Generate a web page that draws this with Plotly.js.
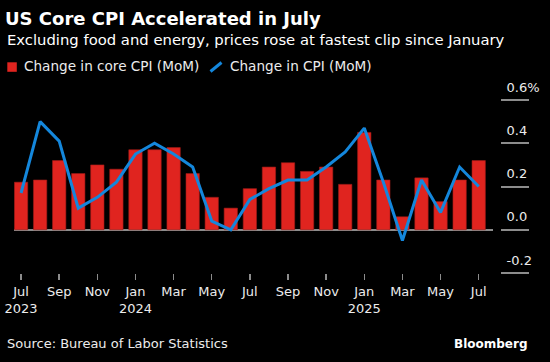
<!DOCTYPE html>
<html>
<head>
<meta charset="utf-8">
<script src="https://cdn.plot.ly/plotly-3.0.1.min.js"></script>
<style>
  html, body { margin: 0; padding: 0; background: #000; }
  #chart { width: 550px; height: 362px; }
</style>
</head>
<body>
<div id="chart"></div>
<script>
// ---- data ----
const months = ["2023-07","2023-08","2023-09","2023-10","2023-11","2023-12",
                "2024-01","2024-02","2024-03","2024-04","2024-05","2024-06",
                "2024-07","2024-08","2024-09","2024-10","2024-11","2024-12",
                "2025-01","2025-02","2025-03","2025-04","2025-05","2025-06","2025-07"];
const coreCPI = [0.22,0.23,0.32,0.26,0.30,0.28,0.37,0.37,0.38,0.26,0.15,0.10,
                 0.19,0.29,0.31,0.27,0.29,0.21,0.45,0.23,0.06,0.24,0.13,0.23,0.32];
const headlineCPI = [0.17,0.50,0.41,0.10,0.15,0.22,0.35,0.40,0.35,0.29,0.04,0.00,
                     0.14,0.19,0.23,0.23,0.29,0.36,0.47,0.22,-0.05,0.23,0.08,0.29,0.20];
const xTickVals = ["2023-07","2023-09","2023-11","2024-01","2024-03","2024-05","2024-07",
                   "2024-09","2024-11","2025-01","2025-03","2025-05","2025-07"];
const xTickText = ["Jul<br>2023","Sep","Nov","Jan<br>2024","Mar","May","Jul",
                   "Sep","Nov","Jan<br>2025","Mar","May","Jul"];
const yTickVals = [-0.2, 0.0, 0.2, 0.4, 0.6];
const yTickText = ["-0.2","0.0","0.2","0.4","0.6%"];
const seriesNames = ["Change in core CPI (MoM)", "Change in CPI (MoM)"];

// ---- layout helpers ----
const W = 550, H = 362;
const M = {l: 14, r: 14, t: 100, b: 89, pad: 0};
const PW = W - M.l - M.r, PH = H - M.t - M.b;
const fx = p => (p - M.l) / PW;
const fy = p => 1 - (p - M.t) / PH;

const FONT = "DejaVu Sans";
const RED = "#e0241f", BLUE = "#1487dc", GREY = "#8c8c8c", TXT = "#ececec";

const traces = [
  {
    type: "bar", name: seriesNames[0], x: months, y: coreCPI,
    marker: {color: RED, line: {color: "#9e1b17", width: 0.6}},
    hoverinfo: "x+y", showlegend: false
  },
  {
    type: "scatter", mode: "lines", name: seriesNames[1], x: months, y: headlineCPI,
    line: {color: BLUE, width: 3}, hoverinfo: "x+y", showlegend: false
  }
];

const layout = {
  width: W, height: H,
  margin: M,
  paper_bgcolor: "#000", plot_bgcolor: "#000",
  font: {family: FONT, color: TXT, size: 13},
  bargap: 0.30,
  title: {
    text: "<b>US Core CPI Accelerated in July</b>",
    font: {family: FONT, size: 18, color: "#ffffff"},
    xref: "container", yref: "container",
    x: 5 / W, xanchor: "left",
    y: 1 - 18.5 / H, yanchor: "middle"
  },
  xaxis: {
    type: "category",
    domain: [0, fx(493)],
    range: [-0.37, 24.75],
    anchor: "y",
    showgrid: false, zeroline: false, showline: false,
    ticks: "outside", ticklen: 6, tickwidth: 1.5, tickcolor: GREY,
    tickvals: xTickVals, ticktext: xTickText,
    tickfont: {family: FONT, size: 13, color: TXT},
    fixedrange: true
  },
  yaxis: {
    range: [-0.2, 0.6],
    side: "right", anchor: "free", position: fx(500),
    showgrid: false, showline: false,
    zeroline: true, zerolinecolor: GREY, zerolinewidth: 1.5,
    ticks: "outside", ticklen: 28, tickwidth: 2, tickcolor: GREY,
    tickvals: yTickVals, ticktext: yTickText,
    ticklabelstandoff: -25, ticklabelshift: -13,
    tickfont: {family: FONT, size: 13, color: TXT},
    fixedrange: true
  },
  shapes: [
    // legend keys
    {type: "rect", xref: "paper", yref: "paper",
     x0: fx(7.3), x1: fx(16.8), y0: fy(71.8), y1: fy(62.3),
     fillcolor: RED, line: {width: 0}},
    {type: "line", xref: "paper", yref: "paper",
     x0: fx(210.5), x1: fx(221.5), y0: fy(71.5), y1: fy(62.5),
     line: {color: BLUE, width: 3}}
  ],
  annotations: [
    {text: "Excluding food and energy, prices rose at fastest clip since January",
     xref: "paper", yref: "paper", x: fx(5), y: fy(39.5),
     xanchor: "left", yanchor: "middle", showarrow: false,
     font: {family: FONT, size: 14.8, color: "#ffffff"}},
    {text: seriesNames[0], xref: "paper", yref: "paper", x: fx(21.5), y: fy(66.5),
     xanchor: "left", yanchor: "middle", showarrow: false,
     font: {family: FONT, size: 13.6, color: TXT}},
    {text: seriesNames[1], xref: "paper", yref: "paper", x: fx(227.5), y: fy(66.5),
     xanchor: "left", yanchor: "middle", showarrow: false,
     font: {family: FONT, size: 13.6, color: TXT}},
    {text: "Source: Bureau of Labor Statistics", xref: "paper", yref: "paper",
     x: fx(5), y: fy(343.5), xanchor: "left", yanchor: "middle", showarrow: false,
     font: {family: FONT, size: 13, color: TXT}},
    {text: "<b>Bloomberg</b>", xref: "paper", yref: "paper",
     x: fx(530), y: fy(343.5), xanchor: "right", yanchor: "middle", showarrow: false,
     font: {family: FONT, size: 12, color: "#ffffff"}}
  ],
  showlegend: false
};

Plotly.newPlot("chart", traces, layout, {displayModeBar: false, staticPlot: true});
</script>
</body>
</html>
